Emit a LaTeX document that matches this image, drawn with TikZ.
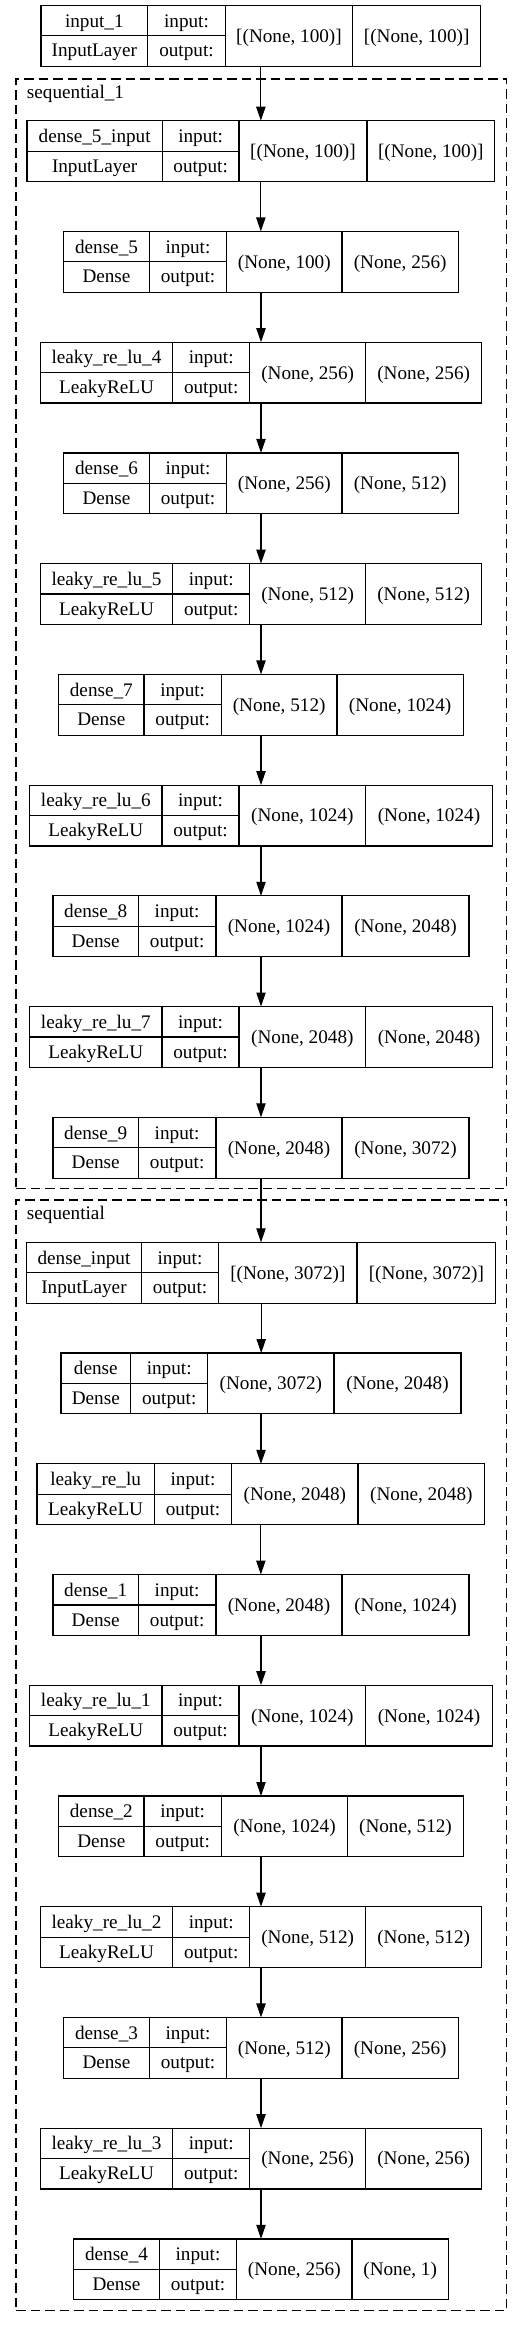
\documentclass[tikz,border=0pt]{standalone}
\usepackage{fontspec}
\setmainfont{Liberation Serif}
\usetikzlibrary{arrows.meta}
\tikzset{
  box/.style={draw, line width=1.2pt, rectangle, inner sep=0pt, outer sep=0pt},
  cell/.style={line width=1.2pt},
  txt/.style={inner sep=0pt, outer sep=0pt, anchor=base, font=\fontsize{19.2pt}{22pt}\selectfont},
  arr/.style={line width=1.2pt, -{Triangle[length=14pt,width=9.3pt]}},
  cluster/.style={draw, line width=1.2pt, dash pattern=on 9.5pt off 5pt, inner sep=0pt, outer sep=0pt}
}
\def\splitx#1/#2/#3/#4/#5\relax{\def\lxa{#1}\def\lxb{#2}\def\lxc{#3}\def\lxd{#4}\def\lxe{#5}}
% #1 name, #2 top, #3 x-list, #4 label, #5 type, #6 input shape, #7 output shape
\newcommand\layerbox[7]{%
  \splitx#3\relax
  \pgfmathsetmacro\lytop{#2}%
  \pgfmathsetmacro\lybot{#2+60.8}%
  \pgfmathsetmacro\lymid{#2+30.4}%
  \pgfmathsetmacro\lboxwd{\lxe-\lxa}%
  \node[box, minimum width=\lboxwd pt, minimum height=60.8pt] (#1) at ({(\lxa+\lxe)/2},\lymid) {};
  \draw[cell] (\lxb,\lytop) -- (\lxb,\lybot) (\lxc,\lytop) -- (\lxc,\lybot) (\lxd,\lytop) -- (\lxd,\lybot) (\lxa,\lymid) -- (\lxc,\lymid);
  \node[txt] (#1-name) at ({(\lxa+\lxb)/2},{#2+21.7}) {#4};
  \node[txt] (#1-type) at ({(\lxa+\lxb)/2},{#2+51.5}) {#5};
  \node[txt] (#1-inl) at ({(\lxb+\lxc)/2},{#2+21.7}) {input:};
  \node[txt] (#1-outl) at ({(\lxb+\lxc)/2},{#2+51.5}) {output:};
  \node[txt] (#1-in) at ({(\lxc+\lxd)/2},{#2+36.8}) {#6};
  \node[txt] (#1-out) at ({(\lxd+\lxe)/2},{#2+36.8}) {#7};
}
\begin{document}
\begin{tikzpicture}[x=1pt,y=-1pt]
\useasboundingbox (0,0) rectangle (523,2327);
% clusters
\node[cluster, minimum width=490.7pt, minimum height=1109.7pt] (seqA) at (261.35,633.85) {};
\node[txt, anchor=base west] (seqA-label) at (27,98.7) {sequential\_1};
\node[cluster, minimum width=490.7pt, minimum height=1110.7pt] (seqB) at (261.35,1755.35) {};
\node[txt, anchor=base west] (seqB-label) at (27,1219) {sequential};
% layers
\layerbox{input1}{5.3}{41/147.7/225.3/352.7/480.7}{input\_1}{InputLayer}{[(None, 100)]}{[(None, 100)]}
\layerbox{d5in}{120.7}{27/162.3/239/367/494.7}{dense\_5\_input}{InputLayer}{[(None, 100)]}{[(None, 100)]}
\layerbox{d5}{231.4}{63.7/149.3/226.7/342/458.3}{dense\_5}{Dense}{(None, 100)}{(None, 256)}
\layerbox{l4}{342.2}{40.3/172.7/249.7/365.7/481.7}{leaky\_re\_lu\_4}{LeakyReLU}{(None, 256)}{(None, 256)}
\layerbox{d6}{452.9}{63.7/149.3/226.7/342/458.3}{dense\_6}{Dense}{(None, 256)}{(None, 512)}
\layerbox{l5}{563.6}{40.3/172.7/249.7/365.7/481.7}{leaky\_re\_lu\_5}{LeakyReLU}{(None, 512)}{(None, 512)}
\layerbox{d7}{674.4}{58.7/144/221.3/337/463.3}{dense\_7}{Dense}{(None, 512)}{(None, 1024)}
\layerbox{l6}{785.1}{29.7/162/239/365.7/492.3}{leaky\_re\_lu\_6}{LeakyReLU}{(None, 1024)}{(None, 1024)}
\layerbox{d8}{895.8}{53/138.3/216/342/469}{dense\_8}{Dense}{(None, 1024)}{(None, 2048)}
\layerbox{l7}{1006.5}{29.7/162/239/365.7/492.3}{leaky\_re\_lu\_7}{LeakyReLU}{(None, 2048)}{(None, 2048)}
\layerbox{d9}{1117.3}{53/138.3/216/342/469}{dense\_9}{Dense}{(None, 2048)}{(None, 3072)}
\layerbox{din}{1242.3}{26.7/141.3/218.7/357/495.7}{dense\_input}{InputLayer}{[(None, 3072)]}{[(None, 3072)]}
\layerbox{d0}{1353.0}{61/130.7/207.7/334/461}{dense}{Dense}{(None, 3072)}{(None, 2048)}
\layerbox{l0}{1463.8}{37/154.3/231.7/358/484.7}{leaky\_re\_lu}{LeakyReLU}{(None, 2048)}{(None, 2048)}
\layerbox{d1}{1574.5}{53/138.3/216/342/469}{dense\_1}{Dense}{(None, 2048)}{(None, 1024)}
\layerbox{l1}{1685.2}{29.7/162/239/365.7/492.3}{leaky\_re\_lu\_1}{LeakyReLU}{(None, 1024)}{(None, 1024)}
\layerbox{d2}{1796.0}{58.7/144/221.3/347.7/463.3}{dense\_2}{Dense}{(None, 1024)}{(None, 512)}
\layerbox{l2}{1906.7}{40.3/172.7/249.7/365.7/481.7}{leaky\_re\_lu\_2}{LeakyReLU}{(None, 512)}{(None, 512)}
\layerbox{d3}{2017.4}{63.7/149.3/226.7/342/458.3}{dense\_3}{Dense}{(None, 512)}{(None, 256)}
\layerbox{l3}{2128.1}{40.3/172.7/249.7/365.7/481.7}{leaky\_re\_lu\_3}{LeakyReLU}{(None, 256)}{(None, 256)}
\layerbox{d4}{2238.9}{73.7/159.3/236.7/352/448.3}{dense\_4}{Dense}{(None, 256)}{(None, 1)}
% connectors
\foreach \a/\b in {input1/d5in, d5in/d5, d5/l4, l4/d6, d6/l5, l5/d7, d7/l6, l6/d8, d8/l7, l7/d9, d9/din,
  din/d0, d0/l0, l0/d1, d1/l1, l1/d2, d2/l2, l2/d3, d3/l3, l3/d4}
  \draw[arr] (\a.south) -- (\a.south |- \b.north);
\end{tikzpicture}
\end{document}
